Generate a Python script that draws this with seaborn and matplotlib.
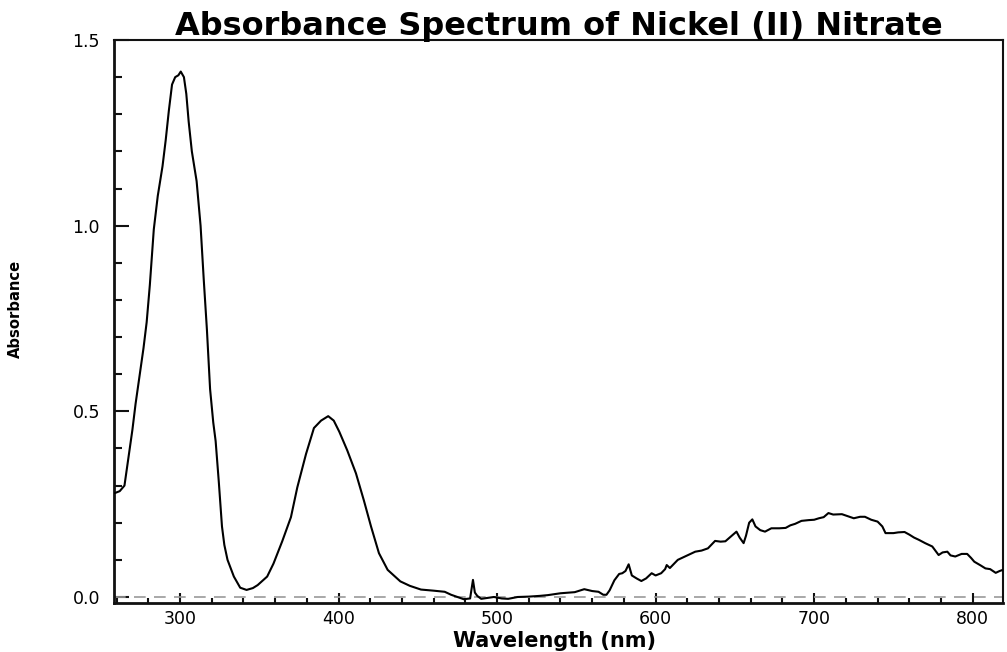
import matplotlib
matplotlib.use("Agg")
import matplotlib.pyplot as plt
from matplotlib.ticker import MultipleLocator
import seaborn as sns
import pandas as pd

# spectrum
wavelength = [259, 262, 265, 267, 270, 272, 274, 277, 279, 281, 283.5, 286, 289, 291, 293, 295, 297, 299,
              300.5, 302.5, 304, 305.5, 307.5, 310.5, 313, 315, 317, 319, 321, 322.5, 324.5, 326.5, 328, 330,
              334, 338, 342, 346, 349, 355, 359, 364.5, 370, 374, 379.5, 384.5, 389, 393.5, 397, 400.5,
              405.5, 411, 416, 420.5, 425.5, 431, 439, 445, 452, 460, 467, 471, 479, 483, 484.8, 486, 487.5,
              490, 498, 503, 507, 513, 520, 527, 532, 540, 549, 555, 560, 564, 567, 569, 571, 574, 577, 579,
              581, 583, 585, 588, 591, 594, 597.5, 600, 603.5, 606, 607, 609, 614, 619, 625, 629, 633, 637.5,
              641, 644, 648, 651, 653, 655.5, 657, 659, 661, 663, 666, 669, 673, 678, 682, 685, 688, 692,
              696.5, 700, 703, 706, 709, 712, 717.5, 721, 725, 729, 732, 736, 740, 743, 745, 750, 753, 757,
              760, 763, 766, 770, 774.5, 778.5, 781, 784, 786, 789, 793, 796.5, 799, 801, 805, 808, 811,
              814.5, 817, 819]
absorbance = [0.28, 0.285, 0.30, 0.36, 0.45, 0.52, 0.58, 0.67, 0.74, 0.84, 0.99, 1.08, 1.16, 1.23, 1.31, 1.38,
              1.40, 1.405, 1.415, 1.40, 1.355, 1.28, 1.20, 1.12, 1.0, 0.855, 0.72, 0.56, 0.47, 0.42, 0.31, 0.19,
              0.14, 0.10, 0.055, 0.025, 0.019, 0.024, 0.032, 0.055, 0.09, 0.15, 0.215, 0.295, 0.385, 0.455,
              0.475, 0.487, 0.475, 0.445, 0.395, 0.333, 0.26, 0.19, 0.118, 0.073, 0.042, 0.03, 0.02, 0.017,
              0.014, 0.006, -0.006, -0.004, 0.046, 0.012, 0.003, -0.005, 0.0, -0.004, -0.005, 0.0, 0.001,
              0.003, 0.005, 0.01, 0.013, 0.021, 0.016, 0.014, 0.006, 0.006, 0.018, 0.045, 0.062, 0.064, 0.07,
              0.088, 0.058, 0.05, 0.043, 0.05, 0.064, 0.058, 0.064, 0.075, 0.086, 0.078, 0.10, 0.11, 0.122,
              0.125, 0.131, 0.151, 0.149, 0.15, 0.165, 0.176, 0.16, 0.145, 0.165, 0.20, 0.209, 0.19, 0.18,
              0.176, 0.185, 0.185, 0.186, 0.193, 0.197, 0.205, 0.207, 0.208, 0.212, 0.215, 0.226, 0.222,
              0.223, 0.218, 0.212, 0.216, 0.216, 0.208, 0.203, 0.19, 0.172, 0.172, 0.174, 0.175, 0.168, 0.16,
              0.154, 0.145, 0.136, 0.113, 0.12, 0.122, 0.112, 0.109, 0.116, 0.116, 0.105, 0.095, 0.085,
              0.077, 0.075, 0.065, 0.07, 0.073]
x_ticks = [300, 400, 500, 600, 700, 800]
y_ticks = [0.0, 0.5, 1.0, 1.5]

df = pd.DataFrame({"Wavelength": wavelength, "Absorbance": absorbance})

sns.set_style("ticks")
plt.rcParams['font.family'] = ['DejaVu Sans']
plt.rcParams['text.color'] = 'black'
plt.rcParams['axes.labelcolor'] = 'black'

fig = plt.figure(figsize=(10.07, 6.52), dpi=100)
ax = fig.add_axes([114 / 1007, 1 - 603 / 652, 889 / 1007, 563 / 652])

ax.axhline(0, color='#999999', lw=1.2, dashes=(7, 5), zorder=1)
sns.lineplot(data=df, x="Wavelength", y="Absorbance", sort=False, estimator=None,
             color='black', lw=1.5, ax=ax, zorder=3)

ax.set_xlim(258.4, 819.1)
ax.set_ylim(-0.0162, 1.5)
ax.set_xticks(x_ticks)
ax.set_yticks(y_ticks)
ax.set_yticklabels([f"{v:.1f}" for v in y_ticks])
ax.xaxis.set_minor_locator(MultipleLocator(20))
ax.yaxis.set_minor_locator(MultipleLocator(0.1))

ax.tick_params(axis='x', which='major', direction='in', length=7, width=1.5, labelsize=12.5, pad=5,
               color='#111111', labelcolor='black')
ax.tick_params(axis='x', which='minor', direction='in', length=3.5, width=1.5, color='#111111')
ax.tick_params(axis='y', which='major', direction='in', length=11, width=1.5, labelsize=12.5, pad=10,
               color='#111111', labelcolor='black')
ax.tick_params(axis='y', which='minor', direction='in', length=5.5, width=1.5, color='#111111')

for side in ['left', 'bottom']:
    ax.spines[side].set_linewidth(2)
for side in ['top', 'right']:
    ax.spines[side].set_linewidth(1.5)
for s in ax.spines.values():
    s.set_color('#111111')

ax.set_xlabel("Wavelength (nm)", fontsize=15, fontweight='bold', va='baseline')
ax.xaxis.set_label_coords(0.496, -0.0775)
ax.set_ylabel("Absorbance", fontsize=11.8, fontweight='bold', fontstretch='condensed')
ax.yaxis.set_label_coords(-0.102, 0.522)

ax.text(0.5006, 1.0089, "Absorbance Spectrum of Nickel (II) Nitrate", transform=ax.transAxes,
        ha='center', va='baseline', fontsize=23, fontweight='bold')

fig.savefig("out.png", dpi=100)
